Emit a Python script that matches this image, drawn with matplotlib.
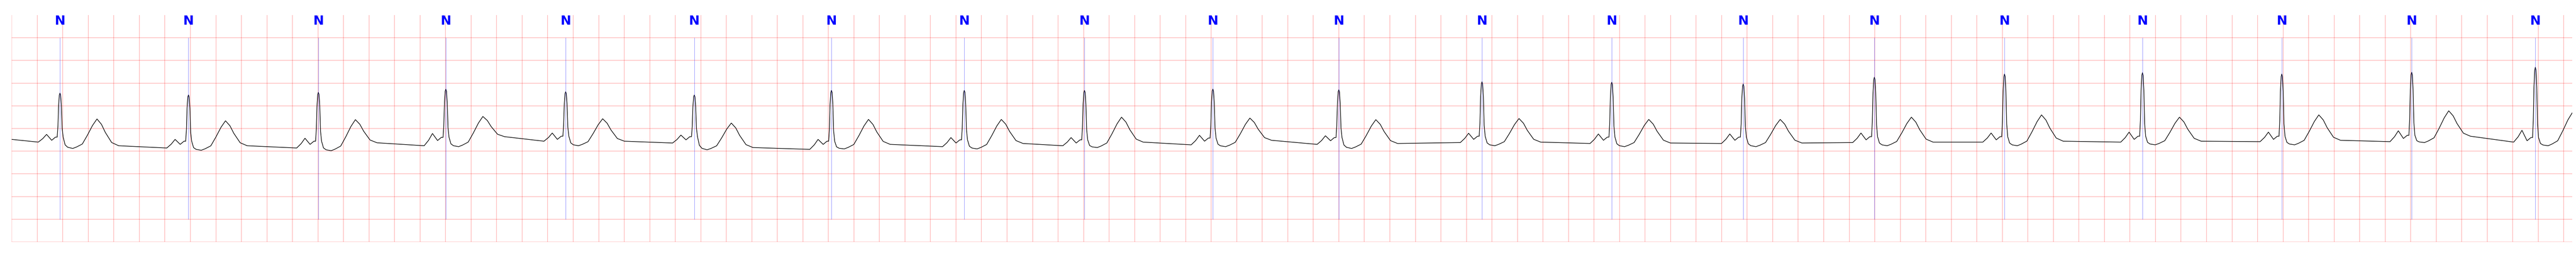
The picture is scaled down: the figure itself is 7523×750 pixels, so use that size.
import numpy as np
import matplotlib
matplotlib.use("Agg")
from matplotlib import pyplot as plt

# beat annotations (R peaks), seconds
r_t = [0.378, 1.385, 2.403, 3.402, 4.341, 5.349, 6.424, 7.465, 8.407, 9.413,
       10.400, 11.522, 12.539, 13.569, 14.597, 15.617, 16.698, 17.790, 18.808, 19.777]
labels = ["N"] * 20

r_mv = [0.78, 0.74, 0.795, 0.866, 0.81, 0.737, 0.84, 0.84, 0.84, 0.87,
        0.853, 1.03, 1.02, 0.98, 1.13, 1.20, 1.23, 1.20, 1.24, 1.35]
p_mv = [-0.13, -0.24, -0.215, -0.11, -0.10, -0.145, -0.24, -0.20, -0.20, -0.15,
        -0.16, -0.105, -0.12, -0.12, -0.10, -0.10, -0.08, -0.08, -0.05, -0.04]
pr_mv = [-0.26, -0.35, -0.35, -0.265, -0.24, -0.25, -0.35, -0.32, -0.32, -0.28,
         -0.27, -0.24, -0.26, -0.26, -0.25, -0.25, -0.24, -0.24, -0.22, -0.27]
s_mv = [-0.44, -0.48, -0.49, -0.40, -0.38, -0.47, -0.45, -0.45, -0.42, -0.40,
        -0.44, -0.38, -0.40, -0.40, -0.38, -0.38, -0.36, -0.36, -0.31, -0.38]
t_mv = [0.21, 0.17, 0.195, 0.265, 0.215, 0.12, 0.20, 0.20, 0.25, 0.23,
        0.195, 0.22, 0.20, 0.20, 0.25, 0.30, 0.25, 0.30, 0.39, 0.35]
tp_mv = [-0.38, -0.38, -0.315, -0.18, -0.28, -0.42, -0.35, -0.33, -0.30, -0.26,
         -0.33, -0.30, -0.32, -0.32, -0.30, -0.28, -0.28, -0.26, -0.17, -0.30]
base_mv = [-0.30, -0.43, -0.43, -0.38, -0.28, -0.32, -0.46, -0.40, -0.38, -0.36,
           -0.35, -0.31, -0.33, -0.33, -0.31, -0.30, -0.30, -0.29, -0.29, -0.30]
start_mv = -0.24
t_end = 20.066


def beat_points(i):
    R = r_t[i]
    b, p, pr, r = base_mv[i], p_mv[i], pr_mv[i], r_mv[i]
    s, t, tp = s_mv[i], t_mv[i], tp_mv[i]
    q = pr + 0.07
    pts = [
        (R - 0.170, b), (R - 0.135, b + 0.45 * (p - b)), (R - 0.105, p),
        (R - 0.085, (p + pr) / 2), (R - 0.065, pr), (R - 0.035, q), (R - 0.022, q),
        (R - 0.016, q + 0.25 * (r - q)), (R - 0.011, q + 0.72 * (r - q)),
        (R - 0.005, q + 0.96 * (r - q)), (R, r),
        (R + 0.005, q + 0.96 * (r - q)), (R + 0.011, q + 0.72 * (r - q)),
        (R + 0.017, q + 0.2 * (r - q)), (R + 0.025, q),
        (R + 0.040, s + 0.45 * (pr - s)), (R + 0.060, s + 0.15 * (pr - s)),
        (R + 0.100, s), (R + 0.130, s + 0.05 * (t - s)),
        (R + 0.175, s + 0.15 * (t - s)), (R + 0.215, s + 0.45 * (t - s)),
        (R + 0.255, s + 0.78 * (t - s)), (R + 0.290, t),
        (R + 0.325, tp + 0.8 * (t - tp)), (R + 0.355, tp + 0.5 * (t - tp)),
        (R + 0.405, tp + 0.12 * (t - tp)), (R + 0.460, tp),
    ]
    return pts


pts = [(0.0, start_mv)]
for i in range(len(r_t)):
    pts += beat_points(i)
trace_t = np.array([p[0] for p in pts])
trace_mv = np.array([p[1] for p in pts])

fig = plt.figure(figsize=(75.23, 7.5), dpi=100)
ax = fig.add_axes([34.3 / 7523, 44 / 750, (7512 - 34.3) / 7523, (706 - 44) / 750])

# ECG paper: 0.2 s x 0.5 mV
ax.set_xticks(np.arange(0, t_end, 0.2))
ax.set_yticks(np.arange(-2.5, 2.5, 0.5))
ax.grid(True, color="red", alpha=0.25, linewidth=1.5)
ax.set_axisbelow(True)
ax.tick_params(length=0, labelbottom=False, labelleft=False)
for sp in ax.spines.values():
    sp.set_visible(False)

ax.plot(trace_t, trace_mv, color="black", linewidth=1.3)

# annotations
ax.vlines(r_t, -2.0, 2.0, color="blue", alpha=0.5, linewidth=0.8)
for x, lab in zip(r_t, labels):
    ax.text(x, 2.29, lab, color="blue", fontsize=27, fontweight="bold",
            family=["Liberation Sans Narrow", "DejaVu Sans"],
            ha="center", va="baseline")

ax.set_xlim(0, t_end)
ax.set_ylim(-2.5, 2.5)
fig.savefig("out.png", dpi=100)
